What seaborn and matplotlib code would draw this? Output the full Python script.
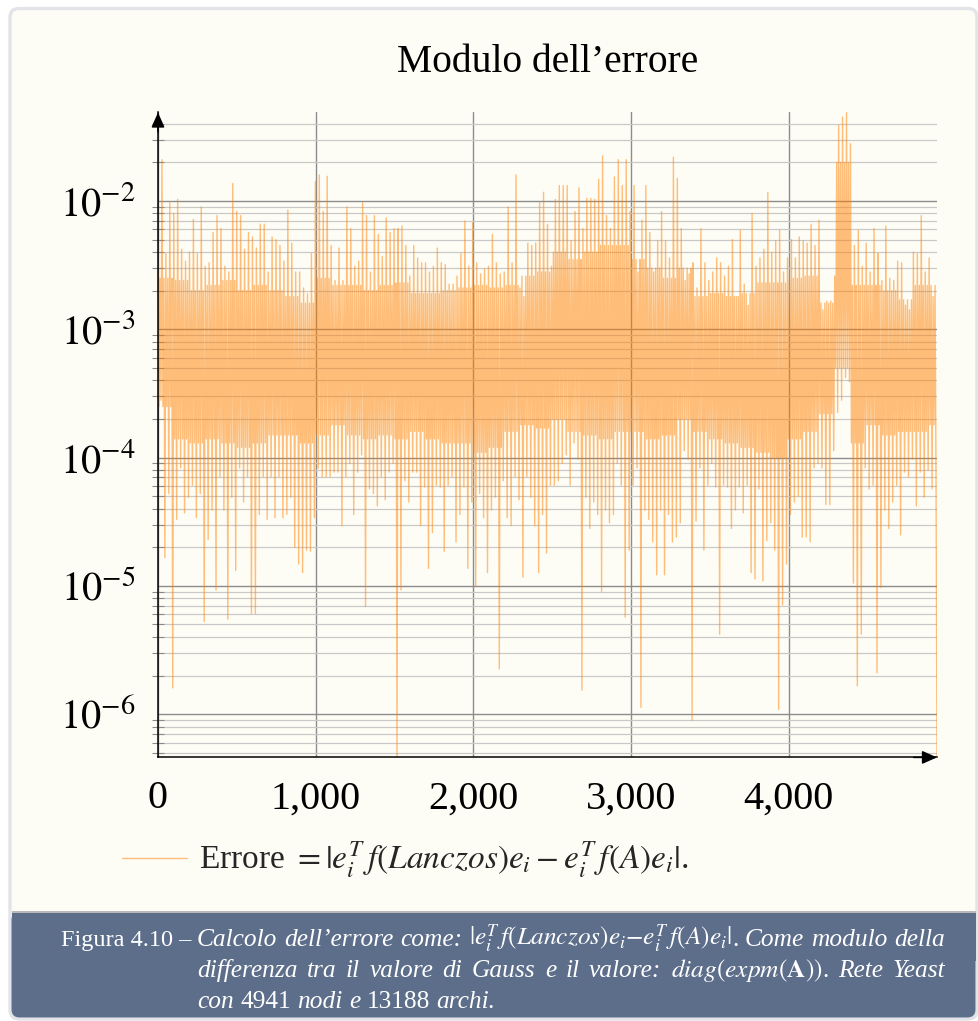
import numpy as np
import pandas as pd
import matplotlib
matplotlib.use("Agg")
import matplotlib.pyplot as plt
import matplotlib.ticker as mticker
from matplotlib.patches import FancyBboxPatch, Rectangle
from matplotlib.transforms import IdentityTransform
import seaborn as sns

# ---------------------------------------------------------------------------
# Data: |e_i^T f(Lanczos) e_i - e_i^T f(A) e_i| on the Yeast network (4941 nodes)
# Upper / lower extremes of the error in consecutive blocks of 25 nodes.
# ---------------------------------------------------------------------------
n_nodes = 4941
block_nodes = 25

err_high = [
    2.95e-3, 2.1e-2, 3.9e-3, 9.7e-3, 8.0e-3, 1.03e-2, 4.2e-3, 3.4e-3, 4.0e-3, 7.2e-3,
    3.9e-3, 9.0e-3, 3.1e-3, 3.3e-3, 5.7e-3, 7.7e-3, 6.1e-3, 3.1e-3, 2.8e-3, 1.37e-2,
    8.3e-3, 7.7e-3, 4.2e-3, 5.7e-3, 5.25e-3, 4.3e-3, 6.6e-3, 6.6e-3, 2.8e-3, 5.25e-3,
    5.0e-3, 4.5e-3, 3.4e-3, 8.5e-3, 4.7e-3, 2.8e-3, 2.8e-3, 2.1e-3, 1.9e-3, 3.9e-3,
    1.42e-2, 1.6e-2, 8.3e-3, 1.56e-2, 4.5e-3, 2.4e-3, 4.3e-3, 2.4e-3, 9.0e-3, 6.1e-3,
    3.1e-3, 3.4e-3, 9.7e-3, 7.7e-3, 2.8e-3, 7.7e-3, 5.5e-3, 3.7e-3, 7.4e-3, 5.7e-3,
    6.1e-3, 6.1e-3, 6.4e-3, 4.5e-3, 2.6e-3, 4.5e-3, 3.6e-3, 3.3e-3, 3.3e-3, 2.8e-3,
    3.1e-3, 4.3e-3, 3.3e-3, 3.2e-3, 2.25e-3, 2.25e-3, 2.6e-3, 3.9e-3, 7.0e-3, 3.1e-3,
    6.8e-3, 3.3e-3, 2.7e-3, 2.95e-3, 3.1e-3, 5.5e-3, 3.3e-3, 2.7e-3, 2.8e-3, 9.0e-3,
    3.3e-3, 1.6e-2, 2.1e-3, 1.8e-3, 4.7e-3, 4.5e-3, 4.7e-3, 9.7e-3, 1.17e-2, 6.6e-3,
    3.1e-3, 1.03e-2, 1.32e-2, 1.32e-2, 1.32e-2, 4.9e-3, 8.3e-3, 1.27e-2, 6.1e-3, 1.05e-2,
    1.05e-2, 1.03e-2, 1.48e-2, 2.25e-2, 7.7e-3, 6.1e-3, 1.54e-2, 2.1e-2, 1.32e-2, 2.1e-2,
    8.3e-3, 1.32e-2, 2.8e-3, 7.1e-3, 1.32e-2, 5.7e-3, 2.8e-3, 4.9e-3, 8.3e-3, 4.9e-3,
    3.6e-3, 2.2e-2, 1.5e-2, 6.1e-3, 2.4e-3, 2.7e-3, 3.3e-3, 2.1e-3, 6.1e-3, 3.3e-3,
    2.4e-3, 2.8e-3, 3.6e-3, 3.3e-3, 2.6e-3, 3.1e-3, 5.0e-3, 1.8e-3, 5.9e-3, 2.25e-3,
    1.54e-3, 8.0e-3, 3.1e-3, 3.6e-3, 4.2e-3, 1.17e-2, 4.0e-3, 4.9e-3, 5.9e-3, 2.8e-3,
    3.6e-3, 5.0e-3, 3.6e-3, 5.25e-3, 4.9e-3, 4.7e-3, 6.6e-3, 4.5e-3, 7.1e-3, 1.42e-3,
    1.66e-3, 1.66e-3, 2.6e-3, 3.9e-2, 4.5e-2, 4.9e-2, 2.8e-2, 4.5e-3, 5.9e-3, 3.1e-3,
    4.7e-3, 2.8e-3, 6.1e-3, 3.9e-3, 2.4e-3, 6.4e-3, 2.5e-3, 2.4e-3, 3.4e-3, 3.3e-3,
    1.54e-3, 1.42e-3, 4.0e-3, 3.9e-3, 7.7e-3, 2.8e-3, 3.6e-3, 1.8e-3,
]

err_low = [
    2.8e-4, 1.66e-5, 5.25e-5, 1.6e-6, 3.3e-5, 8.3e-5, 3.7e-5, 4.9e-5, 6.1e-5, 3.4e-5,
    5.25e-5, 5.25e-6, 2.3e-5, 3.9e-5, 9.3e-6, 7.1e-5, 3.9e-5, 5.5e-6, 4.9e-5, 1.32e-5,
    8.3e-5, 4.5e-5, 7.1e-5, 6.1e-6, 6.1e-6, 3.6e-5, 7.1e-5, 3.3e-5, 7.1e-5, 3.4e-5,
    7.1e-5, 3.4e-5, 3.6e-5, 4.9e-5, 2.0e-5, 1.48e-5, 1.27e-5, 1.9e-5, 1.86e-5, 3.4e-5,
    8.3e-5, 7.1e-5, 7.1e-5, 7.1e-5, 7.7e-5, 7.7e-5, 2.95e-5, 7.1e-5, 9.0e-5, 3.6e-5,
    7.7e-5, 1.05e-4, 6.9e-6, 5.7e-5, 5.25e-5, 4.2e-5, 7.1e-5, 4.7e-5, 7.7e-5, 9.0e-5,
    4.6e-7, 9.3e-6, 6.6e-5, 4.5e-5, 7.7e-5, 7.7e-5, 2.95e-5, 5.9e-5, 1.37e-5, 2.6e-5,
    6.1e-5, 5.9e-5, 1.86e-5, 6.1e-5, 7.1e-5, 2.2e-5, 3.6e-5, 5.9e-5, 1.37e-5, 4.5e-5,
    1.0e-5, 5.25e-5, 3.4e-5, 1.27e-5, 3.9e-5, 4.9e-5, 2.25e-6, 6.6e-5, 3.4e-5, 2.95e-5,
    7.1e-5, 4.7e-5, 1.17e-5, 7.1e-5, 4.9e-5, 2.95e-5, 1.27e-5, 3.6e-5, 1.8e-5, 6.1e-5,
    6.1e-5, 6.6e-5, 9.0e-5, 1.05e-4, 6.1e-5, 1.3e-4, 9.7e-5, 1.54e-6, 4.9e-5, 2.8e-5,
    4.5e-5, 3.6e-5, 9.0e-6, 3.9e-5, 3.1e-5, 3.6e-5, 9.0e-5, 6.1e-5, 5.7e-6, 1.9e-5,
    6.1e-5, 8.3e-5, 1.13e-6, 3.9e-5, 3.3e-5, 2.2e-5, 1.22e-5, 3.9e-5, 1.22e-5, 3.6e-5,
    2.2e-5, 2.4e-5, 3.1e-5, 1.13e-4, 9.7e-5, 9.0e-7, 3.2e-5, 8.3e-5, 1.9e-5, 6.1e-5,
    9.0e-5, 5.9e-5, 4.2e-6, 6.1e-5, 5.9e-5, 2.8e-5, 3.9e-5, 5.9e-5, 3.7e-5, 6.1e-5,
    1.27e-5, 1.13e-5, 5.7e-5, 1.09e-5, 2.25e-5, 3.1e-5, 1.9e-5, 1.09e-6, 7.1e-6, 1.48e-5,
    3.6e-5, 4.5e-5, 5.0e-5, 2.4e-5, 2.4e-5, 2.2e-5, 8.3e-5, 9.0e-5, 8.3e-5, 4.3e-5,
    4.3e-5, 1.13e-4, 2.25e-4, 2.8e-4, 4.2e-4, 3.9e-4, 1.05e-5, 1.66e-6, 4.2e-6, 8.3e-5,
    5.7e-5, 6.1e-5, 2.1e-6, 9.7e-6, 3.9e-5, 2.8e-5, 4.5e-5, 6.1e-5, 2.5e-5, 7.7e-5,
    7.1e-5, 9.7e-5, 4.2e-5, 7.7e-5, 4.9e-5, 8.0e-5, 5.7e-5, 7.1e-5,
]

# Edges of the dense band of errors, every 100 nodes
band_upper = [
    2.5e-3, 2.4e-3, 2.0e-3, 2.2e-3, 2.4e-3, 2.0e-3, 2.2e-3, 2.0e-3,
    1.8e-3, 1.6e-3, 2.5e-3, 2.2e-3, 2.2e-3, 2.0e-3, 2.2e-3, 2.3e-3,
    1.9e-3, 1.9e-3, 2.0e-3, 2.1e-3, 2.2e-3, 2.1e-3, 2.2e-3, 2.6e-3,
    2.8e-3, 4.0e-3, 3.5e-3, 4.0e-3, 4.5e-3, 4.5e-3, 3.5e-3, 3.0e-3,
    2.5e-3, 3.0e-3, 1.8e-3, 1.9e-3, 1.8e-3, 1.9e-3, 2.3e-3, 2.3e-3, 2.5e-3,
    2.6e-3, 1.6e-3, 2.0e-2, 2.2e-3, 2.2e-3, 2.0e-3, 1.7e-3, 2.2e-3, 2.2e-3,
]
band_lower = [
    2.5e-4, 1.4e-4, 1.3e-4, 1.4e-4, 1.3e-4, 1.2e-4, 1.3e-4, 1.5e-4,
    1.5e-4, 1.3e-4, 1.5e-4, 1.8e-4, 1.5e-4, 1.4e-4, 1.5e-4, 1.4e-4,
    1.6e-4, 1.4e-4, 1.3e-4, 1.3e-4, 1.1e-4, 1.2e-4, 1.6e-4, 1.8e-4,
    1.7e-4, 2.0e-4, 1.6e-4, 1.5e-4, 1.4e-4, 1.6e-4, 1.6e-4, 1.4e-4,
    1.5e-4, 2.0e-4, 1.6e-4, 1.4e-4, 1.3e-4, 1.2e-4, 1.1e-4, 1.0e-4, 1.4e-4,
    1.6e-4, 2.2e-4, 5.0e-4, 1.3e-4, 1.8e-4, 1.5e-4, 1.6e-4, 1.6e-4, 1.8e-4,
]
err_last = 4.7e-7

x_ticks = [0, 1000, 2000, 3000, 4000]
title_text = "Modulo dell\u2019errore"
legend_text = r"Errore $=|e_i^T\,f(Lanczos)e_i - e_i^T\,f(A)e_i|$."

# ---------------------------------------------------------------------------
# Assemble the plotted series: per block high, band low, band high, low
# ---------------------------------------------------------------------------
hi = np.asarray(err_high)
lo = np.asarray(err_low)
per_band = 100 // block_nodes
up = np.repeat(band_upper, per_band)[: len(hi)]
dn = np.repeat(band_lower, per_band)[: len(hi)]
values = np.append(np.column_stack([hi, dn, up, lo]).ravel(), err_last)
nodes = np.linspace(0, n_nodes, len(values))
df = pd.DataFrame({"nodo": nodes, "errore": values})

# ---------------------------------------------------------------------------
# Figure
# ---------------------------------------------------------------------------
W, H = 979, 1021
sns.set_theme(style="white")
plt.rcParams.update({
    "font.family": ["Liberation Serif", "DejaVu Serif"],
    "mathtext.fontset": "stix",
    "axes.unicode_minus": True,
})

fig = plt.figure(figsize=(W / 100, H / 100), dpi=100)
fig.patch.set_facecolor("white")

ident = IdentityTransform()
cream = "#FEFDF5"
slate = "#5D6E8B"

# outer rounded frame
frame = FancyBboxPatch((10, 2), 967, 1010.5, boxstyle="round,pad=0,rounding_size=9",
                       fc=cream, ec="#E3E3EA", lw=2.4, transform=ident, zorder=-10)
fig.add_artist(frame)
# caption band
band = FancyBboxPatch((11.5, 3.5), 964, 105.5, boxstyle="round,pad=0,rounding_size=8",
                      fc=slate, ec="none", transform=ident, zorder=-9)
fig.add_artist(band)
fig.add_artist(Rectangle((11.5, 60), 964, 49, fc=slate, ec="none",
                         transform=ident, zorder=-9))
fig.add_artist(Rectangle((11.5, 108), 964, 2.5, fc="#B8B8BC", ec="none",
                         transform=ident, zorder=-8))

# axes
ax_left, ax_right = 158, 937
ax_top, ax_bottom = 112.5, 757.4
ax = fig.add_axes([ax_left / W, (H - ax_bottom) / H,
                   (ax_right - ax_left) / W, (ax_bottom - ax_top) / H])
ax.patch.set_alpha(0)

sns.lineplot(data=df, x="nodo", y="errore", ax=ax, color=(1.0, 0.5, 0.0),
             alpha=0.5, lw=1.0, estimator=None, sort=False, legend=False)

ax.set_yscale("log")
ax.set_xlim(0, n_nodes)
ax.set_ylim(values.min(), values.max())
ax.set_xlabel("")
ax.set_ylabel("")

ax.set_xticks(x_ticks)
ax.xaxis.set_major_formatter(mticker.FuncFormatter(lambda v, p: f"{v:,.0f}"))
ax.xaxis.set_minor_locator(mticker.NullLocator())
ax.yaxis.set_major_locator(mticker.LogLocator(base=10, numticks=20))
ax.yaxis.set_minor_locator(mticker.LogLocator(base=10, subs=np.arange(2, 10), numticks=20))
ax.yaxis.set_minor_formatter(mticker.NullFormatter())
ax.yaxis.set_major_formatter(
    mticker.FuncFormatter(lambda v, p: r"$10^{%d}$" % int(round(np.log10(v)))))

ax.set_axisbelow(True)
ax.grid(which="major", axis="both", color="#8C8C8C", lw=1.0)
ax.grid(which="minor", axis="y", color="#C9C9C9", lw=0.9)

ax.tick_params(axis="both", which="major", direction="inout", length=13, width=1.0,
               color="#707070", labelsize=29, labelcolor="black")
ax.tick_params(axis="x", which="major", pad=10)
ax.tick_params(axis="y", which="major", pad=9.5)
ax.tick_params(axis="y", which="minor", direction="inout", length=8, width=0.8,
               color="#8A8A8A", left=True)

for side in ("top", "right"):
    ax.spines[side].set_visible(False)
for side in ("left", "bottom"):
    ax.spines[side].set_color("black")
    ax.spines[side].set_linewidth(1.1)

arrow = dict(arrowstyle="-|>,head_length=0.45,head_width=0.2", color="black",
             lw=1.1, shrinkA=0, shrinkB=0, mutation_scale=20)
ax.annotate("", xy=(0, 1.0), xytext=(0, 0.97), xycoords="axes fraction",
            arrowprops=arrow, annotation_clip=False)
ax.annotate("", xy=(1.0, 0), xytext=(0.97, 0), xycoords="axes fraction",
            arrowprops=arrow, annotation_clip=False)

# title
fig.text(((ax_left + ax_right) / 2) / W, 1 - 62 / H, title_text,
         ha="center", va="center", fontsize=28.5, color="black")

# legend
handle = ax.get_lines()[0]
fig.legend([handle], [legend_text], loc="center left",
           bbox_to_anchor=(122 / W, 1 - 860 / H), frameon=False, fontsize=24,
           handlelength=1.95, handletextpad=0.36, borderpad=0, borderaxespad=0)

# caption
renderer = fig.canvas.get_renderer()


def style_kw(st, size):
    kw = dict(fontsize=size, color="white")
    if st == "it":
        kw["fontstyle"] = "italic"
    return kw


def width_of(s, st, size):
    t = fig.text(0, 0, s, **style_kw(st, size))
    w = t.get_window_extent(renderer).width
    t.remove()
    return w


def natural_width(tokens, size):
    sp = width_of("x x", "it", size) - width_of("xx", "it", size)
    total = sum(width_of(tok, st, size) for tok, st, _ in tokens)
    return total + sp * sum(1 for _, _, s in tokens[1:] if s)


def set_line(tokens, x0, baseline, size, x1=None):
    widths = [width_of(tok, st, size) for tok, st, _ in tokens]
    n_gaps = sum(1 for _, _, sp in tokens[1:] if sp)
    gap = width_of("x x", "it", size) - width_of("xx", "it", size)
    if x1 is not None and n_gaps:
        gap = (x1 - x0 - sum(widths)) / n_gaps
    x = x0
    for i, ((tok, st, sp), w) in enumerate(zip(tokens, widths)):
        if i > 0 and sp:
            x += gap
        fig.text(x / W, 1 - baseline / H, tok, ha="left", va="baseline",
                 **style_kw(st, size))
        x += w


cap_math1 = r"$|e_i^T\,f(Lanczos)e_i{-}e_i^T\,f(A)e_i|$"
cap_math2 = r"$diag(expm(\mathbf{A}))$"

line1 = [("Calcolo", "it", True), ("dell\u2019errore", "it", True), ("come:", "it", True),
         (cap_math1, "rm", True), (".", "rm", False), ("Come", "it", True),
         ("modulo", "it", True), ("della", "it", True)]
line2 = [("differenza", "it", True), ("tra", "it", True), ("il", "it", True),
         ("valore", "it", True), ("di", "it", True), ("Gauss", "it", True),
         ("e", "it", True), ("il", "it", True), ("valore:", "it", True),
         (cap_math2, "rm", True), (".", "rm", False), ("Rete", "it", True),
         ("Yeast", "it", True)]
line3 = [("con", "it", True), ("4941", "rm", True), ("nodi", "it", True),
         ("e", "it", True), ("13188", "rm", True), ("archi.", "it", True)]

text_x0, text_x1 = 197, 945
cap_size = 16 * (text_x1 - text_x0) / max(natural_width(line1, 16),
                                         natural_width(line2, 16) + 8)

fig.text(191 / W, 1 - 946 / H, "Figura 4.10 \u2013", ha="right", va="baseline",
         **style_kw("rm", min(cap_size, 17.5)))
set_line(line1, text_x0, 946, cap_size, text_x1)
set_line(line2, text_x0, 977, cap_size, text_x1)
set_line(line3, text_x0, 1008, cap_size)

fig.savefig("out.png", dpi=100, facecolor=fig.get_facecolor())
